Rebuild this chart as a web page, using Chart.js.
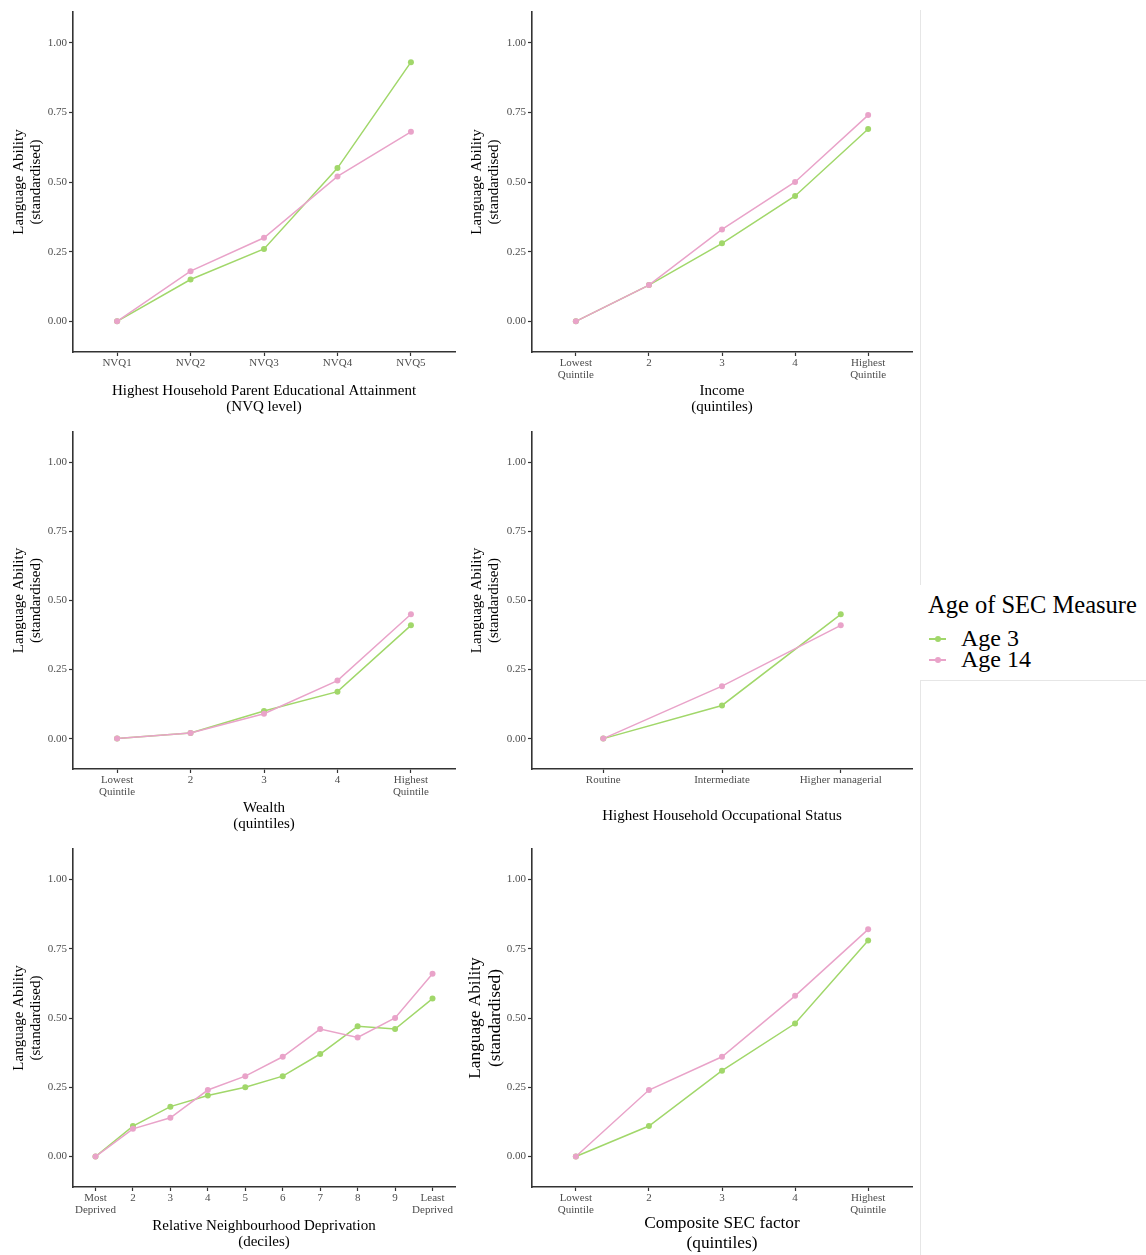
<!DOCTYPE html>
<html>
<head>
<meta charset="utf-8">
<script src="https://cdn.jsdelivr.net/npm/chart.js@4.4.1/dist/chart.umd.min.js"></script>
<style>
  body { margin: 0; background: #fff; }
  #page {
    position: relative; width: 1146px; height: 1255px; background: #fff; overflow: hidden;
    font-family: "Liberation Serif", "DejaVu Serif", serif;
  }
  #page canvas { position: absolute; }
  .rule { position: absolute; background: #e6e6e6; }
  #legend { position: absolute; left: 928px; top: 591px; color: #000; }
  #legend .title { font-size: 24.5px; line-height: 28px; height: 37px; white-space: nowrap; }
  #legend .item { position: relative; font-size: 24px; line-height: 21px; height: 21px; padding-left: 33px; white-space: nowrap; }
  #legend .sym { position: absolute; left: 1px; top: 10px; width: 17px; height: 1.5px; }
  #legend .dot { position: absolute; left: 6px; top: -2px; width: 6px; height: 6px; border-radius: 50%; }
</style>
</head>
<body>
<div id="page">
  <canvas id="pEdu" width="460" height="418" style="left:0;top:0"></canvas>
  <canvas id="pInc" width="460" height="418" style="left:460px;top:0"></canvas>
  <canvas id="pWea" width="460" height="415" style="left:0;top:420px"></canvas>
  <canvas id="pOcc" width="460" height="415" style="left:460px;top:420px"></canvas>
  <canvas id="pDep" width="460" height="416" style="left:0;top:837px"></canvas>
  <canvas id="pSec" width="460" height="416" style="left:460px;top:837px"></canvas>
  <div class="rule" style="left:920px;top:10px;width:1px;height:575px"></div>
  <div class="rule" style="left:920px;top:680px;width:1px;height:575px"></div>
  <div class="rule" style="left:920px;top:680px;width:226px;height:1px"></div>
  <div id="legend">
    <div class="title">Age of SEC Measure</div>
    <div class="item"><span class="sym" style="background:#A1D76A"><span class="dot" style="background:#A1D76A"></span></span>Age 3</div>
    <div class="item"><span class="sym" style="background:#E9A3C9"><span class="dot" style="background:#E9A3C9"></span></span>Age 14</div>
  </div>
</div>
<script>
// categories
const nvqLevels = ['NVQ1', 'NVQ2', 'NVQ3', 'NVQ4', 'NVQ5'];
const quintileLabels = [['Lowest', 'Quintile'], '2', '3', '4', ['Highest', 'Quintile']];
const occupationLevels = ['Routine', 'Intermediate', 'Higher managerial'];
const decileLabels = [['Most', 'Deprived'], '2', '3', '4', '5', '6', '7', '8', '9', ['Least', 'Deprived']];
const yTickValues = [0, 0.25, 0.5, 0.75, 1];
const yTitle = ['Language Ability', '(standardised)'];

// series values (Age 3 / Age 14)
const eduAge3 = [0, 0.15, 0.26, 0.55, 0.93];
const eduAge14 = [0, 0.18, 0.30, 0.52, 0.68];
const incAge3 = [0, 0.13, 0.28, 0.45, 0.69];
const incAge14 = [0, 0.13, 0.33, 0.50, 0.74];
const weaAge3 = [0, 0.02, 0.10, 0.17, 0.41];
const weaAge14 = [0, 0.02, 0.09, 0.21, 0.45];
const occAge3 = [0, 0.12, 0.45];
const occAge14 = [0, 0.19, 0.41];
const depAge3 = [0, 0.11, 0.18, 0.22, 0.25, 0.29, 0.37, 0.47, 0.46, 0.57];
const depAge14 = [0, 0.10, 0.14, 0.24, 0.29, 0.36, 0.46, 0.43, 0.50, 0.66];
const secAge3 = [0, 0.11, 0.31, 0.48, 0.78];
const secAge14 = [0, 0.24, 0.36, 0.58, 0.82];

const GREEN = '#A1D76A';
const PINK = '#E9A3C9';
const FONT = '"Liberation Serif", "DejaVu Serif", serif';
const AXIS = '#333333';
const TICK_TEXT = '#4D4D4D';

function toPoints(values) {
  return values.map((v, i) => ({ x: i, y: v }));
}

function series(label, values, color, order) {
  return {
    label: label,
    data: toPoints(values),
    borderColor: color,
    backgroundColor: color,
    borderWidth: 1.5,
    pointRadius: 3,
    pointBorderWidth: 0,
    pointBackgroundColor: color,
    tension: 0,
    order: order
  };
}

function makePanel(id, labels, age3, age14, xTitle, opts) {
  const titleSize = opts.big ? 17.3 : 15;
  const lh = opts.big ? 1.13 : 1.08;
  const xLines = Array.isArray(xTitle) ? xTitle.length : 1;
  const xPadBottom = (opts.big ? 0 : 3) + (xLines === 1 ? titleSize * lh / 2 : 0);

  new Chart(document.getElementById(id), {
    type: 'line',
    data: {
      datasets: [
        series('Age 3', age3, GREEN, 1),
        series('Age 14', age14, PINK, 0)
      ]
    },
    options: {
      responsive: false,
      animation: false,
      layout: { padding: { top: 12, right: opts.padRight, bottom: 0, left: 0 } },
      plugins: { legend: { display: false }, tooltip: { enabled: false } },
      scales: {
        x: {
          type: 'linear',
          min: -0.6,
          max: labels.length - 0.4,
          afterBuildTicks: s => { s.ticks = labels.map((_, i) => ({ value: i })); },
          afterFit: s => { s.height = 66; },
          ticks: {
            callback: v => labels[v],
            autoSkip: false,
            maxRotation: 0,
            padding: 1,
            color: TICK_TEXT,
            font: { family: FONT, size: 11, lineHeight: 1.1 }
          },
          grid: { drawOnChartArea: false, tickLength: 4, tickColor: AXIS, tickWidth: 1.2 },
          border: { color: AXIS, width: 1.6 },
          title: {
            display: true,
            text: xTitle,
            color: '#000',
            font: { family: FONT, size: titleSize, lineHeight: lh },
            padding: { top: 0, bottom: xPadBottom }
          }
        },
        y: {
          min: -0.11,
          max: 1.11,
          afterBuildTicks: s => { s.ticks = yTickValues.map(v => ({ value: v })); },
          afterFit: s => { s.width = opts.yWidth; },
          ticks: {
            callback: v => v.toFixed(2),
            padding: 2,
            color: TICK_TEXT,
            font: { family: FONT, size: 11 }
          },
          grid: { drawOnChartArea: false, tickLength: 4, tickColor: AXIS, tickWidth: 1.2 },
          border: { color: AXIS, width: 1.6 },
          title: {
            display: true,
            text: yTitle,
            color: '#000',
            font: { family: FONT, size: titleSize, lineHeight: opts.big ? 1.13 : 1.1 },
            padding: { top: opts.yTitlePad, bottom: 0 }
          }
        }
      }
    }
  });
}

const leftCol = { yWidth: 73, padRight: 5, yTitlePad: 11 };
const rightCol = { yWidth: 72, padRight: 8, yTitlePad: 9 };

makePanel('pEdu', nvqLevels, eduAge3, eduAge14,
  ['Highest Household Parent Educational Attainment', '(NVQ level)'], leftCol);
makePanel('pInc', quintileLabels, incAge3, incAge14, ['Income', '(quintiles)'], rightCol);
makePanel('pWea', quintileLabels, weaAge3, weaAge14, ['Wealth', '(quintiles)'], leftCol);
makePanel('pOcc', occupationLevels, occAge3, occAge14, 'Highest Household Occupational Status', rightCol);
makePanel('pDep', decileLabels, depAge3, depAge14,
  ['Relative Neighbourhood Deprivation', '(deciles)'], leftCol);
makePanel('pSec', quintileLabels, secAge3, secAge14, ['Composite SEC factor', '(quintiles)'],
  { yWidth: 72, padRight: 8, yTitlePad: 6, big: true });
</script>
</body>
</html>
